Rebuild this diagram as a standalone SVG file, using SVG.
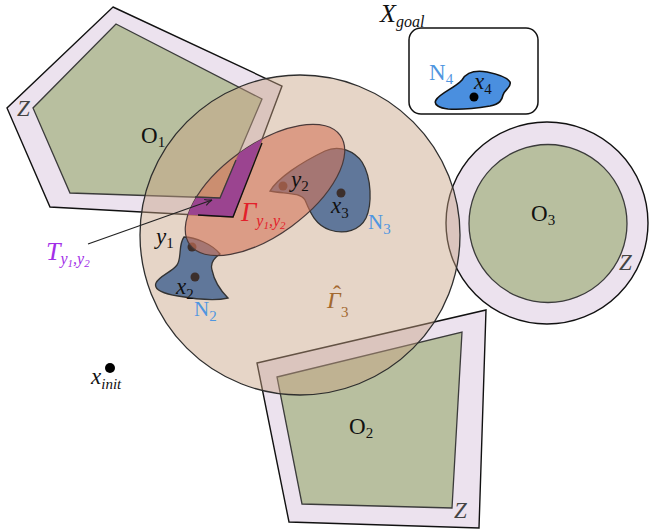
<svg xmlns="http://www.w3.org/2000/svg" width="649" height="532" viewBox="0 0 649 532">
<defs>
<style>
.zone{fill:#ece2ee;stroke:#111;stroke-width:1.4;}
.obs{fill:#b8bf9f;stroke:#3b3b3b;stroke-width:1.3;}
.blob{fill:#3e5f8f;fill-opacity:0.8;stroke:#333;stroke-width:1.3;}
.dot{fill:#3c2f2c;}
.t{font-family:"Liberation Serif","DejaVu Serif",serif;fill:#111;}
.it{font-style:italic;}
.sub{font-size:15px;}
.z{font-family:"Liberation Serif","DejaVu Serif",serif;font-style:italic;font-size:23px;fill:#444;}
</style>
<clipPath id="ellClip">
<ellipse cx="265" cy="190" rx="93" ry="45" transform="rotate(-36 265 190)"/>
</clipPath>
<marker id="arr" viewBox="0 0 10 10" refX="9" refY="5" markerWidth="9" markerHeight="9" orient="auto" markerUnits="userSpaceOnUse">
<path d="M1,1.5 Q5,4 9,5 Q5,6 1,8.5" fill="none" stroke="#222" stroke-width="1.1"/>
</marker>
</defs>
<rect x="0" y="0" width="649" height="532" fill="#fff"/>

<g id="O1">
<polygon class="zone" points="113,7 282,86 233,217 50,207 7,108"/>
<polygon class="obs" points="116,24 262,99 220,198 70,193 33,108"/>
<text class="t" x="141" y="143" font-size="23">O<tspan class="sub" dy="4">1</tspan></text>
<text class="z" x="17" y="116">Z</text>
</g>

<g id="O2">
<polygon class="zone" points="257,363 486,310 479,528 289,522"/>
<polygon class="obs" points="277,377 462,332 452,508 302,504"/>
<text class="t" x="349" y="434" font-size="23">O<tspan class="sub" dy="4">2</tspan></text>
<text class="z" x="454" y="518">Z</text>
</g>

<g id="O3">
<circle class="zone" cx="547" cy="223" r="101"/>
<circle class="obs" cx="548" cy="223.5" r="79"/>
<text class="t" x="531" y="221" font-size="23">O<tspan class="sub" dy="4">3</tspan></text>
<text class="z" x="619" y="270">Z</text>
</g>

<g id="Gamma3">
<circle cx="300" cy="235" r="160" fill="#c8a283" fill-opacity="0.45" stroke="#2e2e2e" stroke-width="1.3"/>
</g>

<g id="N2">
<path class="blob" d="M184,237 C195,237 212,244 220,254 C214,258 210,263 212,270 C214,280 220,290 228,298 C215,301 195,299 178,296 C165,294 153,290 156,283 C159,276 172,272 177,265 C182,258 178,245 184,237 Z"/>
</g>
<g id="N3">
<path class="blob" d="M270,191 C278,178 300,163 325,151 C340,144 355,152 362,162 C372,178 372,205 366,218 C360,230 345,235 330,230 C315,225 310,212 305,200 C300,192 285,194 270,191 Z"/>
</g>

<g id="points">
<circle class="dot" cx="192" cy="247" r="4.5"/>
<circle class="dot" cx="195" cy="277" r="4.5"/>
<circle class="dot" cx="283" cy="186" r="4.5"/>
<circle class="dot" cx="341" cy="193" r="4.5"/>
</g>

<g id="Gamma12">
<ellipse cx="265" cy="190" rx="93" ry="45" transform="rotate(-36 265 190)" fill="#d4775a" fill-opacity="0.6" stroke="#4a3a3a" stroke-width="1.2"/>
</g>

<g id="T12">
<path d="M113,7 L282,86 L233,217 L50,207 L7,108 Z M116,24 L262,99 L220,198 L70,193 L33,108 Z" fill="#9b4490" fill-rule="evenodd" clip-path="url(#ellClip)"/>
<polyline points="262,143 233,217 198,215" fill="none" stroke="#111" stroke-width="1.4"/>
<polyline points="236,160 220,198 195,197" fill="none" stroke="#3b3b3b" stroke-width="1.3"/>
</g>

<g id="connectors">
<line x1="88" y1="244" x2="212" y2="200" stroke="#222" stroke-width="1.2" marker-end="url(#arr)"/>
</g>

<g id="labels">
<text class="t it" x="46" y="260" font-size="26" style="fill:#a22ee8">T<tspan font-size="16" dy="4">y</tspan><tspan font-size="11" dy="3">1</tspan><tspan font-size="16" dy="-3">,y</tspan><tspan font-size="11" dy="3">2</tspan></text>
<text class="t it" x="241" y="221" font-size="27" style="fill:#e3202a">Γ<tspan font-size="16" dy="5">y</tspan><tspan font-size="11" dy="3">1</tspan><tspan font-size="16" dy="-3">,y</tspan><tspan font-size="11" dy="3">2</tspan></text>
<text class="t it" x="156" y="244" font-size="23">y<tspan class="sub" font-style="normal" dy="4">1</tspan></text>
<text class="t it" x="176" y="294" font-size="23">x<tspan class="sub" font-style="normal" dy="5">2</tspan></text>
<text class="t" x="194" y="316" font-size="21" style="fill:#4f96e0">N<tspan class="sub" dy="5">2</tspan></text>
<text class="t it" x="291" y="187" font-size="23">y<tspan class="sub" font-style="normal" dy="4">2</tspan></text>
<text class="t it" x="331" y="213" font-size="23">x<tspan class="sub" font-style="normal" dy="5">3</tspan></text>
<text class="t" x="368" y="229" font-size="21" style="fill:#4f96e0">N<tspan class="sub" dy="5">3</tspan></text>
<text class="t it" x="327" y="308" font-size="24" style="fill:#a3692f">Γ<tspan x="333" dy="-6" font-style="normal">ˆ</tspan><tspan class="sub" x="341" dy="15" font-style="normal">3</tspan></text>
</g>

<g id="Xgoal">
<rect x="409" y="28" width="129" height="86" rx="12" fill="#fff" stroke="#111" stroke-width="1.5"/>
<path d="M436,100 C440,93 455,88 462,80 C466,73 475,70 487,72 C497,74 507,77 510,82 C512,87 504,90 503,95 C502,100 500,104 490,106 C478,108 460,110 448,109 C440,108 433,105 436,100 Z" fill="#4a8fdf" stroke="#111" stroke-width="1.6"/>
<circle cx="474" cy="97" r="4.5" fill="#000"/>
<text class="t it" x="474" y="89" font-size="23">x<tspan class="sub" font-style="normal" dy="5">4</tspan></text>
<text class="t" x="429" y="80" font-size="23" style="fill:#4f96e0">N<tspan class="sub" dy="4">4</tspan></text>
<text class="t it" x="380" y="22" font-size="26">X<tspan font-size="16" dy="5">goal</tspan></text>
</g>

<g id="xinit">
<circle cx="110" cy="368" r="5" fill="#000"/>
<text class="t it" x="91" y="384" font-size="23">x<tspan font-size="15" dy="5">init</tspan></text>
</g>
</svg>
